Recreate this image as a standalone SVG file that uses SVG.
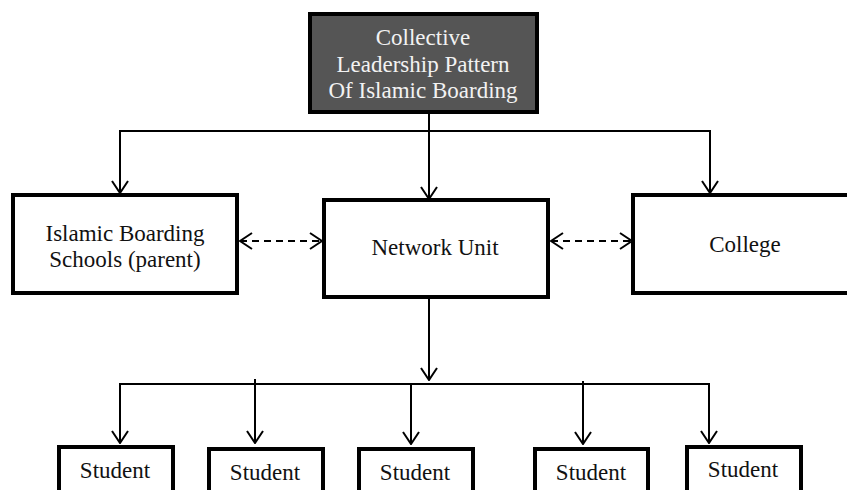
<svg xmlns="http://www.w3.org/2000/svg" width="847" height="490" viewBox="0 0 847 490">
<style>
.box{fill:#fff;stroke:#000;stroke-width:4}
.dark{fill:#555;stroke:#000;stroke-width:4}
text{font-family:'Liberation Serif','Times New Roman','DejaVu Serif',serif;font-size:23px;fill:#111;text-anchor:middle}
text.tw{fill:#f2f2f2}
.ln{fill:none;stroke:#000;stroke-width:2}
.dash{stroke-dasharray:7 5}
</style>
<defs>
<marker id="ah" viewBox="0 0 14 18" refX="13" refY="9" markerWidth="14" markerHeight="18" markerUnits="userSpaceOnUse" orient="auto-start-reverse">
<path d="M1,1 L13,9 L1,17" fill="none" stroke="#000" stroke-width="2"/>
</marker>
</defs>
<rect width="847" height="490" fill="#fff"/>
<g id="connectors">
<path class="ln" d="M429,112 V199" marker-end="url(#ah)"/>
<path class="ln" d="M120,193 V131 H710 V193" marker-start="url(#ah)" marker-end="url(#ah)"/>
<path class="ln dash" d="M240,241 H322" marker-start="url(#ah)" marker-end="url(#ah)"/>
<path class="ln dash" d="M551,241 H632" marker-start="url(#ah)" marker-end="url(#ah)"/>
<path class="ln" d="M429,297 V380" marker-end="url(#ah)"/>
<path class="ln" d="M120,443 V384 H709 V443" marker-start="url(#ah)" marker-end="url(#ah)"/>
<path class="ln" d="M255,379 V443" marker-end="url(#ah)"/>
<path class="ln" d="M411,384 V444" marker-end="url(#ah)"/>
<path class="ln" d="M583,381 V444" marker-end="url(#ah)"/>
</g>
<g id="top">
<rect class="dark" x="310" y="14" width="227" height="98"/>
<text class="tw" font-family="Liberation Serif, serif" x="423" y="45">Collective</text>
<text class="tw" font-family="Liberation Serif, serif" x="423" y="72">Leadership Pattern</text>
<text class="tw" font-family="Liberation Serif, serif" x="423" y="98">Of Islamic Boarding</text>
</g>
<g id="parent">
<rect class="box" x="13" y="195" width="224" height="98"/>
<text x="125" y="241">Islamic Boarding</text>
<text x="125" y="267">Schools (parent)</text>
</g>
<g id="network">
<rect class="box" x="324" y="200" width="224" height="97"/>
<text x="435" y="255">Network Unit</text>
</g>
<g id="college">
<rect class="box" x="633" y="195" width="220" height="98"/>
<text x="745" y="252">College</text>
</g>
<g id="student1">
<rect class="box" x="59" y="447" width="114" height="50"/>
<text x="115" y="478">Student</text>
</g>
<g id="student2">
<rect class="box" x="209" y="449" width="114" height="50"/>
<text x="265" y="480">Student</text>
</g>
<g id="student3">
<rect class="box" x="359" y="449" width="114" height="50"/>
<text x="415" y="480">Student</text>
</g>
<g id="student4">
<rect class="box" x="535" y="449" width="113" height="50"/>
<text x="591" y="480">Student</text>
</g>
<g id="student5">
<rect class="box" x="687" y="447" width="114" height="50"/>
<text x="743" y="477">Student</text>
</g>
</svg>
